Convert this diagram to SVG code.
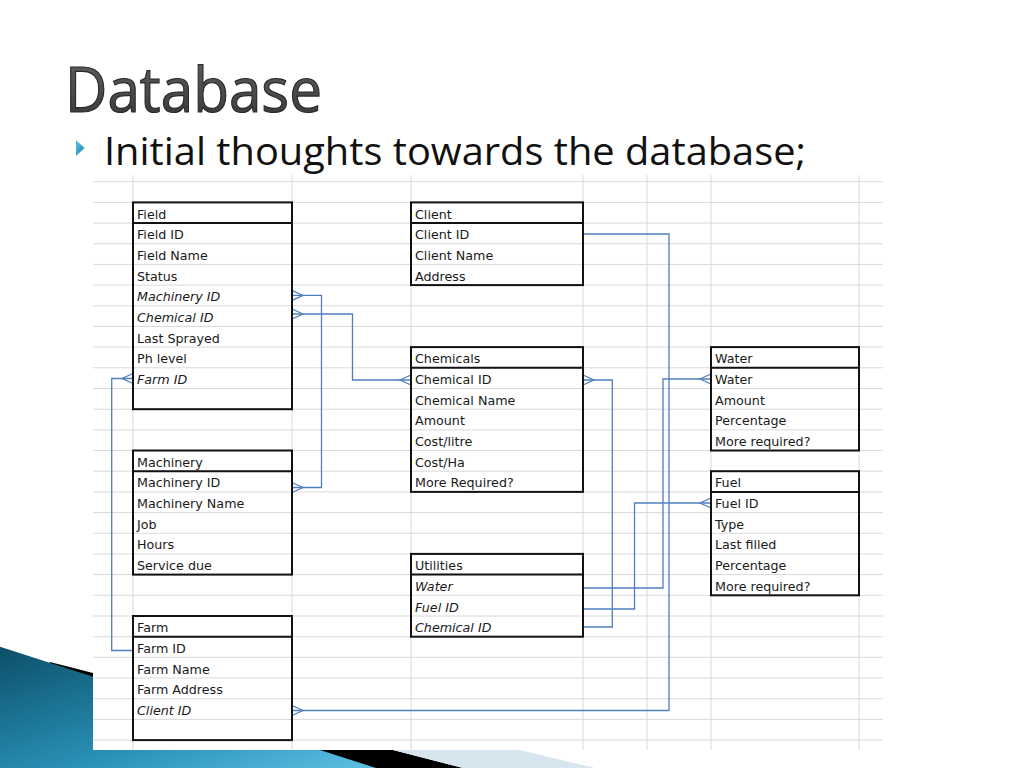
<svg xmlns="http://www.w3.org/2000/svg" width="1024" height="768" viewBox="0 0 1024 768">
<style>
.grid line{stroke:#d9d9d9;stroke-width:1}
.tbl rect{fill:none;stroke:#111;stroke-width:2}
.tbl line{stroke:#111;stroke-width:2}
.tbl text{font-family:"DejaVu Sans","Liberation Sans",sans-serif;font-size:12.7px;fill:#1a1a1a}
.tbl text.i{font-style:italic}
.conn path,.conn use{fill:none;stroke:#4f7fbd;stroke-width:1.3}
</style>
<defs>
<linearGradient id="blue" x1="0" y1="0" x2="1" y2="1">
<stop offset="0" stop-color="#0b4f68"/>
<stop offset="0.6" stop-color="#2a92b8"/>
<stop offset="1" stop-color="#5cc0e3"/>
</linearGradient>
<linearGradient id="ttl" x1="0" y1="0" x2="0" y2="1">
<stop offset="0" stop-color="#666"/>
<stop offset="1" stop-color="#333"/>
</linearGradient>
<linearGradient id="bul" x1="0" y1="0" x2="1" y2="1">
<stop offset="0" stop-color="#5fc6e6"/>
<stop offset="1" stop-color="#1a7fa3"/>
</linearGradient>
<path id="cf" d="M0,-5 L11,0 L0,5"/>
</defs>
<rect width="1024" height="768" fill="#fff"/>
<!-- bottom decoration -->
<polygon points="50,662 393,750 463,768 0,768" fill="#000"/>
<polygon points="0,646.7 320,750 376,768 0,768" fill="url(#blue)"/>
<polygon points="393,750 520,750 595,768 463,768" fill="#d6e6ef"/>
<rect x="93" y="175" width="791" height="575" fill="#fff"/>
<!-- title -->
<text x="65" y="112" font-family="Open Sans, DejaVu Sans, sans-serif" font-size="62" fill="url(#ttl)" stroke="#2a2a2a" stroke-width="1.2" textLength="257" lengthAdjust="spacingAndGlyphs">Database</text>
<polygon points="76,140 84.5,148 76,156" fill="url(#bul)"/>
<text x="104" y="165" font-family="Open Sans, DejaVu Sans, sans-serif" font-size="39" fill="#111" textLength="702" lengthAdjust="spacingAndGlyphs">Initial thoughts towards the database;</text>
<!-- spreadsheet grid -->
<g class="grid">
<line x1="93" y1="181.7" x2="883" y2="181.7"/><line x1="93" y1="202.4" x2="883" y2="202.4"/><line x1="93" y1="223.1" x2="883" y2="223.1"/><line x1="93" y1="243.7" x2="883" y2="243.7"/><line x1="93" y1="264.4" x2="883" y2="264.4"/><line x1="93" y1="285.1" x2="883" y2="285.1"/><line x1="93" y1="305.8" x2="883" y2="305.8"/><line x1="93" y1="326.5" x2="883" y2="326.5"/><line x1="93" y1="347.1" x2="883" y2="347.1"/><line x1="93" y1="367.8" x2="883" y2="367.8"/><line x1="93" y1="388.5" x2="883" y2="388.5"/><line x1="93" y1="409.2" x2="883" y2="409.2"/><line x1="93" y1="429.9" x2="883" y2="429.9"/><line x1="93" y1="450.5" x2="883" y2="450.5"/><line x1="93" y1="471.2" x2="883" y2="471.2"/><line x1="93" y1="491.9" x2="883" y2="491.9"/><line x1="93" y1="512.6" x2="883" y2="512.6"/><line x1="93" y1="533.3" x2="883" y2="533.3"/><line x1="93" y1="553.9" x2="883" y2="553.9"/><line x1="93" y1="574.6" x2="883" y2="574.6"/><line x1="93" y1="595.3" x2="883" y2="595.3"/><line x1="93" y1="616" x2="883" y2="616"/><line x1="93" y1="636.7" x2="883" y2="636.7"/><line x1="93" y1="657.3" x2="883" y2="657.3"/><line x1="93" y1="678" x2="883" y2="678"/><line x1="93" y1="698.7" x2="883" y2="698.7"/><line x1="93" y1="719.4" x2="883" y2="719.4"/><line x1="93" y1="740.1" x2="883" y2="740.1"/>
<line x1="133" y1="175" x2="133" y2="750"/><line x1="292" y1="175" x2="292" y2="750"/><line x1="411" y1="175" x2="411" y2="750"/><line x1="583" y1="175" x2="583" y2="750"/><line x1="647" y1="175" x2="647" y2="750"/><line x1="711" y1="175" x2="711" y2="750"/><line x1="859" y1="175" x2="859" y2="750"/>
</g>
<!-- connectors -->
<g class="conn">
<path d="M292,295.4 H321.5 V487.5 H292"/>
<use href="#cf" transform="translate(292,295.4)"/>
<use href="#cf" transform="translate(292,487.5)"/>
<path d="M292,314 H352.5 V380 H411"/>
<use href="#cf" transform="translate(292,314)"/>
<use href="#cf" transform="translate(411,380) scale(-1,1)"/>
<path d="M133,378.5 H111.7 V650.5 H133"/>
<use href="#cf" transform="translate(133,378.5) scale(-1,1)"/>
<path d="M292,710.5 H669 V234 H583"/>
<use href="#cf" transform="translate(292,710.5)"/>
<path d="M583,380 H612.3 V627 H583"/>
<use href="#cf" transform="translate(583,380)"/>
<path d="M711,379 H663 V588 H583"/>
<use href="#cf" transform="translate(711,379) scale(-1,1)"/>
<path d="M711,503 H634.5 V609 H583"/>
<use href="#cf" transform="translate(711,503) scale(-1,1)"/>
</g>
<!-- tables -->
<g id="field" class="tbl">
<rect x="133" y="202.4" width="159" height="206.8"/>
<line x1="133" y1="223.1" x2="292" y2="223.1"/>
<text x="137" y="218.6">Field</text>
<text x="137" y="239.2">Field ID</text>
<text x="137" y="259.9">Field Name</text>
<text x="137" y="280.6">Status</text>
<text x="137" y="301.3" class="i">Machinery ID</text>
<text x="137" y="322" class="i">Chemical ID</text>
<text x="137" y="342.6">Last Sprayed</text>
<text x="137" y="363.3">Ph level</text>
<text x="137" y="384" class="i">Farm ID</text>
</g>
<g id="client" class="tbl">
<rect x="411" y="202.4" width="172" height="82.7"/>
<line x1="411" y1="223.1" x2="583" y2="223.1"/>
<text x="415" y="218.6">Client</text>
<text x="415" y="239.2">Client ID</text>
<text x="415" y="259.9">Client Name</text>
<text x="415" y="280.6">Address</text>
</g>
<g id="chemicals" class="tbl">
<rect x="411" y="347.1" width="172" height="144.8"/>
<line x1="411" y1="367.8" x2="583" y2="367.8"/>
<text x="415" y="363.3">Chemicals</text>
<text x="415" y="384">Chemical ID</text>
<text x="415" y="404.7">Chemical Name</text>
<text x="415" y="425.4">Amount</text>
<text x="415" y="446">Cost/litre</text>
<text x="415" y="466.7">Cost/Ha</text>
<text x="415" y="487.4">More Required?</text>
</g>
<g id="water" class="tbl">
<rect x="711" y="347.1" width="148" height="103.4"/>
<line x1="711" y1="367.8" x2="859" y2="367.8"/>
<text x="715" y="363.3">Water</text>
<text x="715" y="384">Water</text>
<text x="715" y="404.7">Amount</text>
<text x="715" y="425.4">Percentage</text>
<text x="715" y="446">More required?</text>
</g>
<g id="fuel" class="tbl">
<rect x="711" y="471.2" width="148" height="124.1"/>
<line x1="711" y1="491.9" x2="859" y2="491.9"/>
<text x="715" y="487.4">Fuel</text>
<text x="715" y="508.1">Fuel ID</text>
<text x="715" y="528.8">Type</text>
<text x="715" y="549.4">Last filled</text>
<text x="715" y="570.1">Percentage</text>
<text x="715" y="590.8">More required?</text>
</g>
<g id="utilities" class="tbl">
<rect x="411" y="553.9" width="172" height="82.8"/>
<line x1="411" y1="574.6" x2="583" y2="574.6"/>
<text x="415" y="570.1">Utilities</text>
<text x="415" y="590.8" class="i">Water</text>
<text x="415" y="611.5" class="i">Fuel ID</text>
<text x="415" y="632.2" class="i">Chemical ID</text>
</g>
<g id="machinery" class="tbl">
<rect x="133" y="450.5" width="159" height="124.1"/>
<line x1="133" y1="471.2" x2="292" y2="471.2"/>
<text x="137" y="466.7">Machinery</text>
<text x="137" y="487.4">Machinery ID</text>
<text x="137" y="508.1">Machinery Name</text>
<text x="137" y="528.8">Job</text>
<text x="137" y="549.4">Hours</text>
<text x="137" y="570.1">Service due</text>
</g>
<g id="farm" class="tbl">
<rect x="133" y="616" width="159" height="124.1"/>
<line x1="133" y1="636.7" x2="292" y2="636.7"/>
<text x="137" y="632.2">Farm</text>
<text x="137" y="652.8">Farm ID</text>
<text x="137" y="673.5">Farm Name</text>
<text x="137" y="694.2">Farm Address</text>
<text x="137" y="714.9" class="i">Client ID</text>
</g>
</svg>
